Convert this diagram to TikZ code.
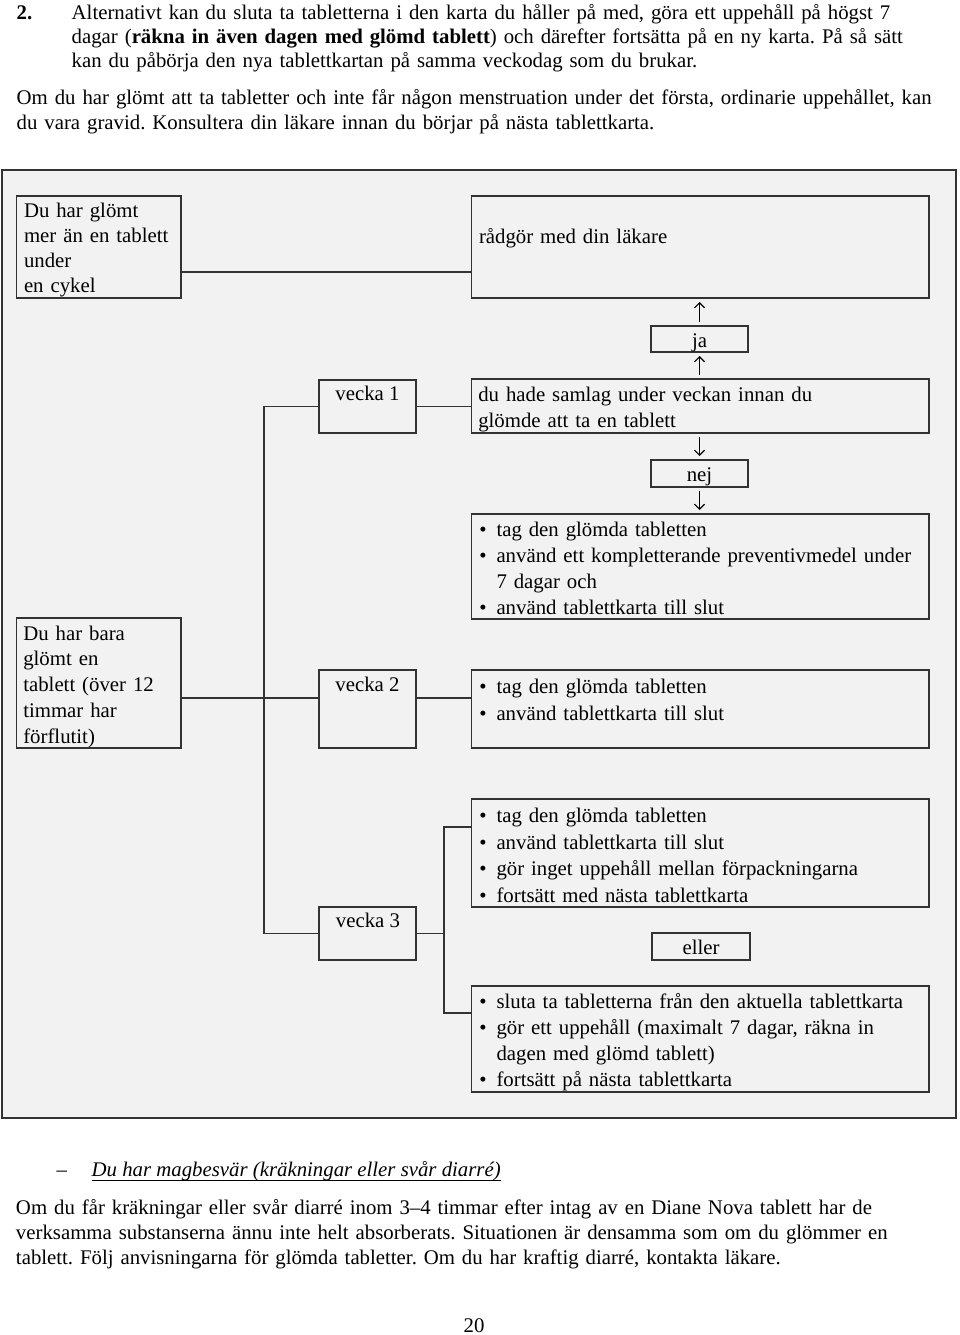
\documentclass[tikz,border=0pt]{standalone}
\usepackage{fontspec}
\setmainfont{Liberation Serif}
\usetikzlibrary{arrows.meta,calc}
\definecolor{bg}{HTML}{F2F2F2}
\definecolor{lc}{HTML}{333333}
\newcommand{\bul}{\makebox[17.25pt][l]{•}}
\newcommand{\ind}{\hspace*{17.25pt}}
\newcommand{\fs}{20.8}
\begin{document}
\frenchspacing
\begin{tikzpicture}[x=1pt,y=-1pt,
  every node/.style={inner sep=0pt,outer sep=0pt},
  frame/.style={draw=lc,fill=bg,line width=1.8pt,rectangle,anchor=north west},
  bx/.style={draw=lc,line width=1.5pt,rectangle,anchor=north west},
  ln/.style={draw=lc,line width=1.5pt},
  ar/.style={draw=black,line width=1.1pt,-{Straight Barb[length=5pt,width=10pt]},shorten <=4pt,shorten >=4pt},
  tx/.style={font=\fontsize{\fs}{#1}\selectfont,align=left,anchor=base west,text width=460pt},
  tx/.default=25.5,
  ct/.style={font=\fontsize{\fs}{25}\selectfont,anchor=base},
  bt/.style={font=\fontsize{\fs}{#1}\selectfont,align=left,anchor=base west,text width=940pt},
]
\useasboundingbox (0,0) rectangle (960,1335);

% header text
\node[bt=24] (h1) at (16.7,19.5) {\makebox[55pt][l]{\textbf{2.}}Alternativt kan du sluta ta tabletterna i den karta du håller på med, göra ett uppehåll på högst 7\\
\hspace*{55pt}dagar (\textbf{räkna in även dagen med glömd tablett}) och därefter fortsätta på en ny karta. På så sätt\\
\hspace*{55pt}kan du påbörja den nya tablettkartan på samma veckodag som du brukar.};
\node[bt=25] (h2) at (16.7,104.5) {Om du har glömt att ta tabletter och inte får någon menstruation under det första, ordinarie uppehållet, kan\\
du vara gravid. Konsultera din läkare innan du börjar på nästa tablettkarta.};

% frame
\node[frame,minimum width=954pt,minimum height=948pt] (fr) at (2,170) {};

% boxes
\node[bx,minimum width=164.3pt,minimum height=102pt] (g1) at (16.7,196) {};
\node[bx,minimum width=457.5pt,minimum height=102pt] (r1) at (471.5,196) {};
\node[bx,minimum width=97pt,minimum height=26pt] (ja) at (651,326) {};
\node[bx,minimum width=97pt,minimum height=53pt] (v1) at (319,380) {};
\node[bx,minimum width=457.5pt,minimum height=54pt] (s1) at (471.5,379) {};
\node[bx,minimum width=97pt,minimum height=27pt] (nej) at (651,460) {};
\node[bx,minimum width=457.5pt,minimum height=105pt] (c1) at (471.5,514) {};
\node[bx,minimum width=164.3pt,minimum height=130pt] (b1) at (16.7,618) {};
\node[bx,minimum width=97pt,minimum height=78pt] (v2) at (319,670) {};
\node[bx,minimum width=457.5pt,minimum height=78pt] (d1) at (471.5,670) {};
\node[bx,minimum width=457.5pt,minimum height=108pt] (a1) at (471.5,799) {};
\node[bx,minimum width=97pt,minimum height=53pt] (v3) at (319,907) {};
\node[bx,minimum width=98pt,minimum height=27pt] (el) at (652,933) {};
\node[bx,minimum width=457.5pt,minimum height=106pt] (b2) at (471.5,986) {};

% texts in boxes
\node[tx=25] at (24,217.7) {Du har glömt\\mer än en tablett\\under\\en cykel};
\node[tx] at (479,243) {rådgör med din läkare};
\node[ct] at (699.5,347.3) {ja};
\node[ct] at (367.5,400.7) {vecka 1};
\node[tx=26] at (478.3,401.7) {du hade samlag under veckan innan du\\glömde att ta en tablett};
\node[ct] at (699.5,481.7) {nej};
\node[tx=25.8] at (479.25,536.7) {\bul tag den glömda tabletten\\\bul använd ett kompletterande preventivmedel under\\\ind 7 dagar och\\\bul använd tablettkarta till slut};
\node[tx=25.8] at (23.3,640) {Du har bara\\glömt en\\tablett (över 12\\timmar har\\förflutit)};
\node[ct] at (367.5,691) {vecka 2};
\node[tx=27] at (479.25,693) {\bul tag den glömda tabletten\\\bul använd tablettkarta till slut};
\node[tx=26.7] at (479.25,822.5) {\bul tag den glömda tabletten\\\bul använd tablettkarta till slut\\\bul gör inget uppehåll mellan förpackningarna\\\bul fortsätt med nästa tablettkarta};
\node[ct] at (368,927.7) {vecka 3};
\node[ct] at (701,954) {eller};
\node[tx=26.2] at (479.25,1008.3) {\bul sluta ta tabletterna från den aktuella tablettkarta\\\bul gör ett uppehåll (maximalt 7 dagar, räkna in\\\ind dagen med glömd tablett)\\\bul fortsätt på nästa tablettkarta};

% connectors
\coordinate (hy1) at (0,272);
\coordinate (hy2) at (0,698);
\coordinate (hy3) at (0,827);
\coordinate (hy4) at (0,1013);
\coordinate (tx1) at (264,0);
\coordinate (tx2) at (444,0);
\draw[ln] (g1.east |- hy1) -- (r1.west |- hy1);
\draw[ln] (v1.west) -- (v1.west -| tx1) |- (v3.west);
\draw[ln] (v1.east) -- (s1.west |- v1.east);
\draw[ln] (b1.east |- hy2) -- (v2.west |- hy2);
\draw[ln] (v2.east |- hy2) -- (d1.west |- hy2);
\draw[ln] (v3.east) -- (v3.east -| tx2);
\draw[ln] (a1.west |- hy3) -- (tx2 |- hy3) -- (tx2 |- hy4) -- (b2.west |- hy4);
\draw[ar] (ja.north) -- (r1.south -| ja.north);
\draw[ar] (s1.north -| ja.south) -- (ja.south);
\draw[ar] (s1.south -| nej.north) -- (nej.north);
\draw[ar] (nej.south) -- (c1.north -| nej.south);

% bottom text
\node[font=\fontsize{\fs}{25}\selectfont,anchor=base west] (dash) at (56.7,1176.5) {–};
\node[font=\fontsize{\fs}{25}\selectfont\itshape,anchor=base west] (it) at (91.7,1176.5) {Du har magbesvär (kräkningar eller svår diarré)};
\draw[line width=1pt] ($(it.base west)+(0,3.5)$) -- ($(it.base east)+(0,3.5)$);
\node[bt=25] (p1) at (16,1214.5) {Om du får kräkningar eller svår diarré inom 3–4 timmar efter intag av en Diane Nova tablett har de\\
verksamma substanserna ännu inte helt absorberats. Situationen är densamma som om du glömmer en\\
tablett. Följ anvisningarna för glömda tabletter. Om du har kraftig diarré, kontakta läkare.};
\node[font=\fontsize{\fs}{25}\selectfont,anchor=base] (pg) at (474,1332.5) {20};
\end{tikzpicture}
\end{document}
